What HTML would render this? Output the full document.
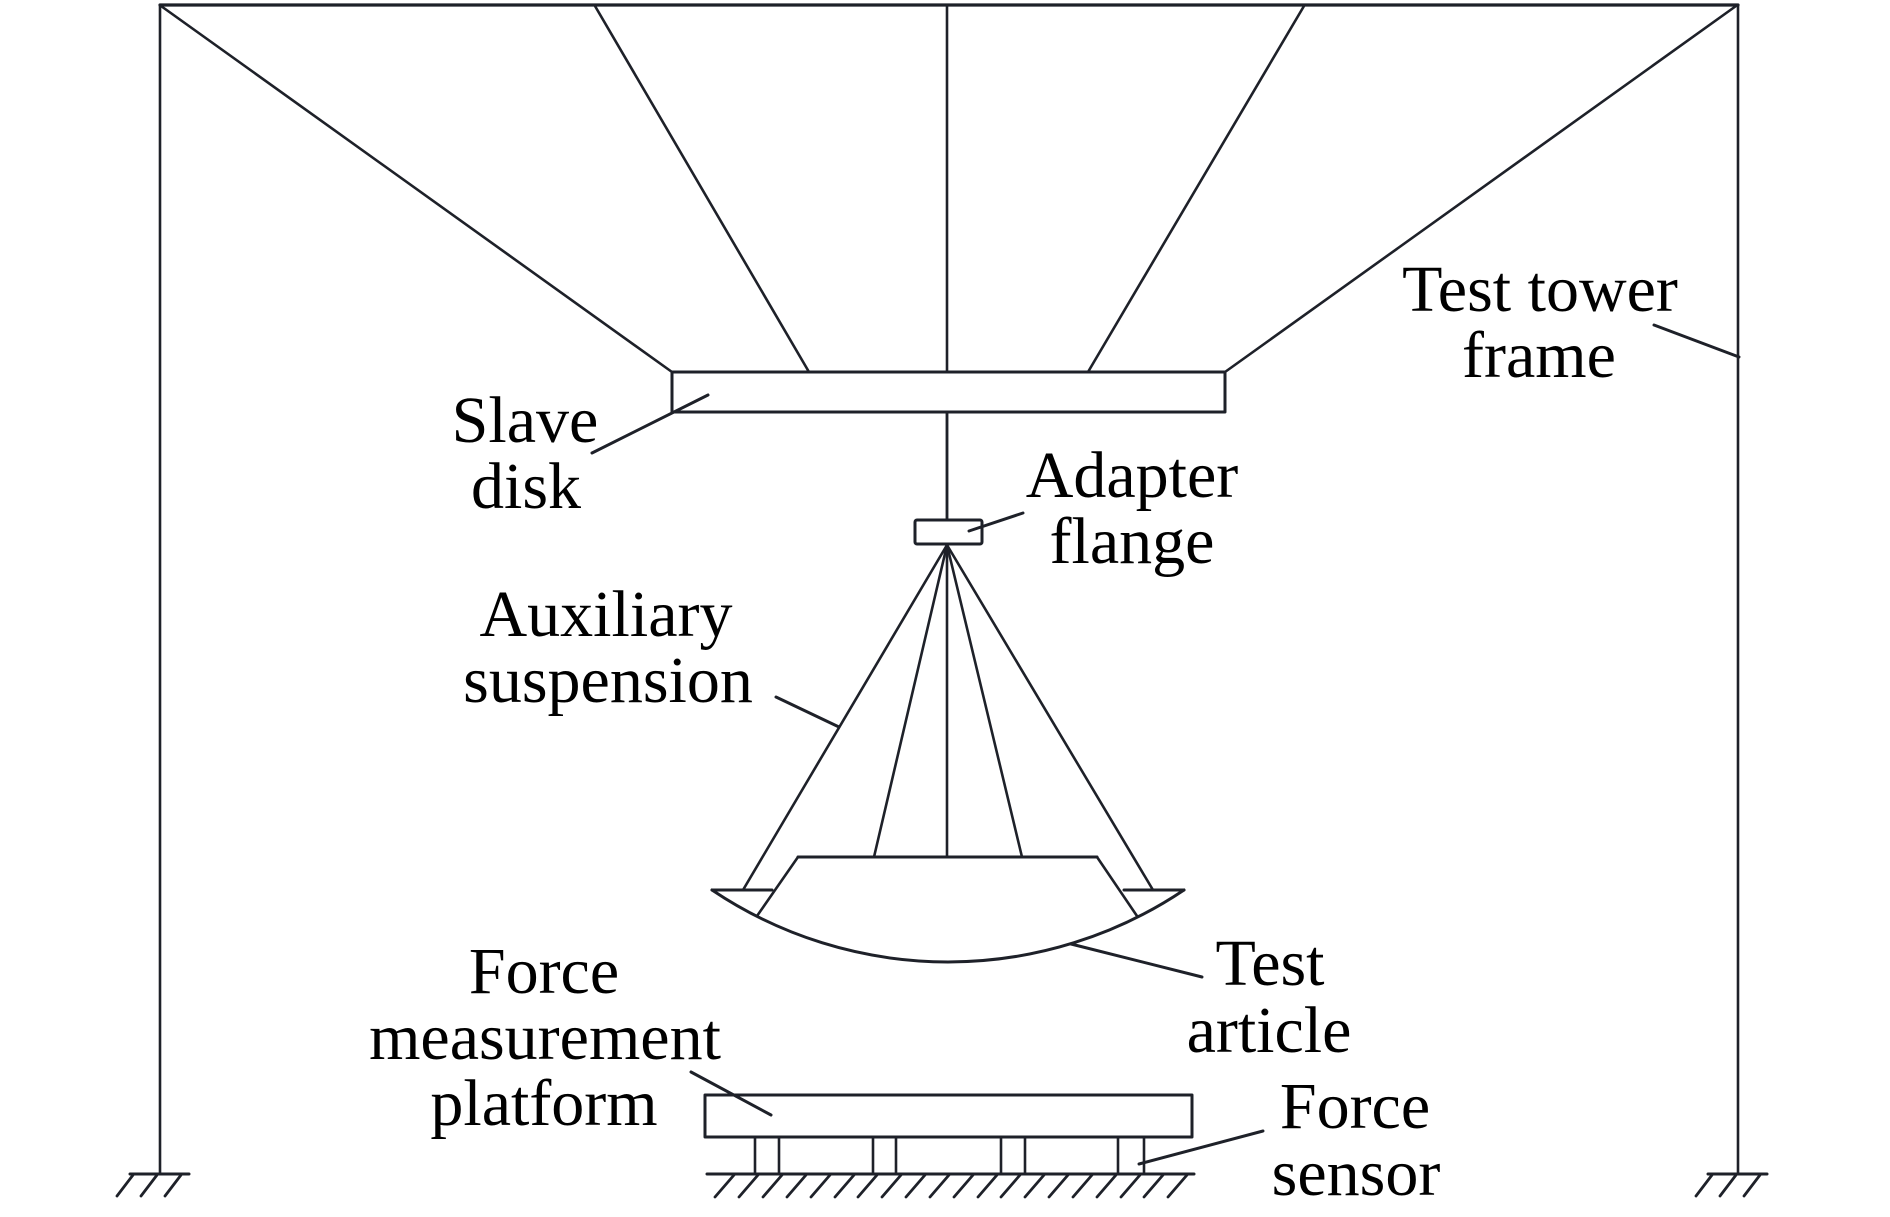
<!DOCTYPE html>
<html>
<head>
<meta charset="utf-8">
<style>
  html, body { margin: 0; padding: 0; background: #ffffff; }
  svg { display: block; }
  text { font-family: "Liberation Serif", "Times New Roman", serif; font-size: 66px; fill: #000; }
</style>
</head>
<body>
<svg width="1890" height="1217" viewBox="0 0 1890 1217" xmlns="http://www.w3.org/2000/svg">
  <g stroke="#1e2129" stroke-width="2.6" fill="none" stroke-linecap="round" stroke-linejoin="round">
    <!-- Frame -->
    <line x1="160" y1="5" x2="1738" y2="5" stroke-width="3.2"/>
    <line x1="160" y1="5" x2="160" y2="1174"/>
    <line x1="1738" y1="5" x2="1738" y2="1174"/>

    <!-- Cables from top beam to slave disk -->
    <line x1="161" y1="6" x2="672" y2="372"/>
    <line x1="595" y1="6" x2="809" y2="372"/>
    <line x1="947" y1="6" x2="947" y2="520"/>
    <line x1="1304" y1="6" x2="1088" y2="372"/>
    <line x1="1736" y1="6" x2="1225" y2="372"/>

    <!-- Slave disk -->
    <rect x="672" y="372" width="553" height="40" fill="#fff" stroke-width="3"/>
    <line x1="947" y1="412" x2="947" y2="520"/>

    <!-- Adapter flange -->
    <rect x="915" y="520" width="67" height="24" rx="2" fill="#fff" stroke-width="3"/>

    <!-- Suspension cables -->
    <line x1="947" y1="545" x2="743" y2="890"/>
    <line x1="947" y1="545" x2="874" y2="857"/>
    <line x1="947" y1="545" x2="947" y2="857"/>
    <line x1="947" y1="545" x2="1022" y2="857"/>
    <line x1="947" y1="545" x2="1153" y2="890"/>

    <!-- Test article -->
    <line x1="798" y1="857" x2="1097" y2="857" stroke-width="3"/>
    <line x1="798" y1="857" x2="757" y2="916"/>
    <line x1="1097" y1="857" x2="1137" y2="916"/>
    <line x1="712" y1="890" x2="772" y2="890" stroke-width="3"/>
    <line x1="1124" y1="890" x2="1184" y2="890" stroke-width="3"/>
    <path d="M712,890 A423,423 0 0 0 1184,890" stroke-width="3"/>

    <!-- Force measurement platform -->
    <rect x="705" y="1095" width="487" height="42" fill="#fff" stroke-width="3"/>
    <line x1="755" y1="1137" x2="755" y2="1174"/>
    <line x1="779" y1="1137" x2="779" y2="1174"/>
    <line x1="873" y1="1137" x2="873" y2="1174"/>
    <line x1="896" y1="1137" x2="896" y2="1174"/>
    <line x1="1001" y1="1137" x2="1001" y2="1174"/>
    <line x1="1025" y1="1137" x2="1025" y2="1174"/>
    <line x1="1118" y1="1137" x2="1118" y2="1174"/>
    <line x1="1144" y1="1137" x2="1144" y2="1174"/>

    <!-- Ground under platform -->
    <line x1="707" y1="1174" x2="1194" y2="1174" stroke-width="3"/>
    <g stroke-width="2.8">
      <line x1="734" y1="1175" x2="715" y2="1197"/>
      <line x1="758" y1="1175" x2="739" y2="1197"/>
      <line x1="782" y1="1175" x2="763" y2="1197"/>
      <line x1="806" y1="1175" x2="787" y2="1197"/>
      <line x1="830" y1="1175" x2="811" y2="1197"/>
      <line x1="854" y1="1175" x2="835" y2="1197"/>
      <line x1="877" y1="1175" x2="858" y2="1197"/>
      <line x1="901" y1="1175" x2="882" y2="1197"/>
      <line x1="925" y1="1175" x2="906" y2="1197"/>
      <line x1="949" y1="1175" x2="930" y2="1197"/>
      <line x1="973" y1="1175" x2="954" y2="1197"/>
      <line x1="997" y1="1175" x2="978" y2="1197"/>
      <line x1="1020" y1="1175" x2="1001" y2="1197"/>
      <line x1="1044" y1="1175" x2="1025" y2="1197"/>
      <line x1="1068" y1="1175" x2="1049" y2="1197"/>
      <line x1="1092" y1="1175" x2="1073" y2="1197"/>
      <line x1="1116" y1="1175" x2="1097" y2="1197"/>
      <line x1="1140" y1="1175" x2="1121" y2="1197"/>
      <line x1="1163" y1="1175" x2="1144" y2="1197"/>
      <line x1="1187" y1="1175" x2="1168" y2="1197"/>
    </g>

    <!-- Ground left post -->
    <line x1="130" y1="1174" x2="189" y2="1174" stroke-width="3"/>
    <line x1="133" y1="1175" x2="117" y2="1196" stroke-width="2.8"/>
    <line x1="157" y1="1175" x2="141" y2="1196" stroke-width="2.8"/>
    <line x1="181" y1="1175" x2="165" y2="1196" stroke-width="2.8"/>

    <!-- Ground right post -->
    <line x1="1708" y1="1174" x2="1767" y2="1174" stroke-width="3"/>
    <line x1="1712" y1="1175" x2="1696" y2="1196" stroke-width="2.8"/>
    <line x1="1736" y1="1175" x2="1720" y2="1196" stroke-width="2.8"/>
    <line x1="1760" y1="1175" x2="1744" y2="1196" stroke-width="2.8"/>

    <!-- Leader lines -->
    <g stroke-width="3">
      <line x1="1654" y1="325" x2="1739" y2="357"/>
      <line x1="592" y1="453" x2="708" y2="395"/>
      <line x1="969" y1="531" x2="1023" y2="513"/>
      <line x1="776" y1="697" x2="839" y2="727"/>
      <line x1="1071" y1="944" x2="1202" y2="977"/>
      <line x1="691" y1="1072" x2="771" y2="1115"/>
      <line x1="1263" y1="1131" x2="1139" y2="1164"/>
    </g>
  </g>

  <!-- Labels -->
  <g text-anchor="middle">
    <text x="1540" y="311">Test tower</text>
    <text x="1539" y="377">frame</text>

    <text x="525" y="442">Slave</text>
    <text x="526" y="508">disk</text>

    <text x="1132" y="497">Adapter</text>
    <text x="1132" y="563">flange</text>

    <text x="606" y="636">Auxiliary</text>
    <text x="608" y="702">suspension</text>

    <text x="1270" y="985">Test</text>
    <text x="1269" y="1052">article</text>

    <text x="544" y="993">Force</text>
    <text x="545" y="1059">measurement</text>
    <text x="544" y="1125">platform</text>

    <text x="1355" y="1128">Force</text>
    <text x="1356" y="1195">sensor</text>
  </g>
</svg>
</body>
</html>
